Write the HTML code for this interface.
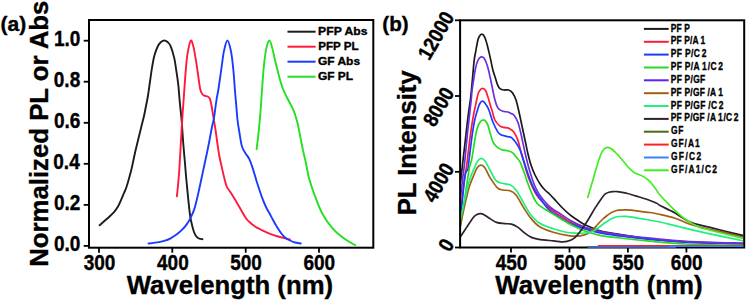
<!DOCTYPE html>
<html><head><meta charset="utf-8"><style>
html,body{margin:0;padding:0;background:#fff;width:746px;height:301px;overflow:hidden}
svg{display:block}
</style></head><body>
<svg width="746" height="301" viewBox="0 0 746 301">
<rect width="746" height="301" fill="#fff"/>
<defs><clipPath id="ca"><rect x="90" y="21" width="282.3" height="225.7"/></clipPath><clipPath id="cb"><rect x="461" y="21.3" width="282.2" height="225.5"/></clipPath><clipPath id="cb2"><rect x="461" y="21.3" width="282.2" height="227"/></clipPath></defs>
<g fill="none" stroke-width="1.9" stroke-linejoin="round" stroke-linecap="round" clip-path="url(#ca)">
<path d="M99.5,225.2 C100.8,224.1 104.6,221.0 107.0,218.8 C109.4,216.6 112.2,214.2 114.0,212.2 C115.8,210.1 116.8,208.5 118.0,206.5 C119.2,204.5 120.0,202.4 121.0,200.2 C122.0,197.9 123.1,195.1 124.0,193.0 C124.9,190.9 125.5,189.9 126.3,187.5 C127.1,185.1 128.2,181.5 129.0,178.5 C129.8,175.5 130.3,174.0 131.4,169.5 C132.5,165.0 134.0,157.2 135.3,151.5 C136.6,145.8 138.2,139.6 139.3,135.0 C140.4,130.4 141.2,127.2 142.0,124.0 C142.8,120.8 143.3,119.0 144.0,116.0 C144.7,113.0 145.3,109.5 146.0,106.0 C146.7,102.5 147.5,98.8 148.1,95.0 C148.7,91.2 149.1,87.6 149.8,83.0 C150.5,78.4 151.3,71.8 152.1,67.2 C152.9,62.6 153.4,59.1 154.4,55.6 C155.4,52.1 156.8,48.3 157.9,46.0 C159.0,43.7 159.9,42.9 161.0,42.0 C162.1,41.1 163.3,40.5 164.4,40.5 C165.5,40.5 166.4,41.0 167.5,42.0 C168.6,43.0 169.6,43.6 170.7,46.3 C171.8,48.9 173.2,53.6 174.2,57.9 C175.2,62.2 175.8,67.4 176.5,71.9 C177.2,76.4 177.8,80.3 178.3,85.0 C178.8,89.7 179.1,94.2 179.6,100.0 C180.1,105.8 181.0,113.3 181.6,120.0 C182.2,126.7 182.5,133.3 183.0,140.0 C183.5,146.7 184.1,153.3 184.7,160.0 C185.3,166.7 185.7,172.8 186.4,180.0 C187.1,187.2 188.0,197.1 188.7,203.3 C189.3,209.5 189.8,213.4 190.3,217.0 C190.9,220.6 191.4,222.5 192.0,225.0 C192.6,227.5 193.3,230.2 194.0,232.0 C194.7,233.8 195.2,234.9 196.0,236.0 C196.8,237.1 197.9,238.0 199.0,238.5 C200.1,239.0 201.9,239.1 202.5,239.2" stroke="#1c1c1c"/>
<path d="M176.9,196.3 C177.1,193.9 177.9,187.2 178.3,182.0 C178.8,176.8 179.2,172.0 179.6,165.0 C180.0,158.0 180.6,147.5 181.0,140.0 C181.4,132.5 181.8,126.7 182.2,120.0 C182.6,113.3 183.1,106.7 183.6,100.0 C184.1,93.3 184.5,86.3 185.0,80.0 C185.5,73.7 186.0,66.8 186.5,62.0 C187.0,57.1 187.3,54.5 188.0,50.9 C188.7,47.3 189.9,41.1 190.8,40.5 C191.7,39.9 192.8,44.1 193.6,47.4 C194.4,50.7 195.1,55.4 195.9,60.2 C196.7,65.0 197.6,71.6 198.3,76.5 C199.0,81.4 199.6,86.5 200.3,89.5 C201.0,92.5 201.7,93.2 202.5,94.3 C203.3,95.3 204.2,95.4 205.0,95.8 C205.8,96.2 206.8,96.0 207.6,96.5 C208.4,97.0 209.1,97.2 209.7,98.5 C210.3,99.8 210.7,101.5 211.2,104.0 C211.7,106.5 212.2,109.4 212.8,113.3 C213.5,117.2 214.3,122.2 215.1,127.2 C215.9,132.2 216.7,138.5 217.4,143.5 C218.1,148.5 218.7,152.8 219.5,157.0 C220.3,161.2 221.3,165.0 222.1,168.6 C222.9,172.2 223.6,175.5 224.4,178.5 C225.2,181.5 225.8,184.3 226.7,186.5 C227.6,188.7 228.6,189.3 230.0,191.5 C231.4,193.7 233.0,196.2 235.0,199.5 C237.0,202.8 240.0,208.2 241.9,211.5 C243.8,214.8 245.2,217.2 246.5,219.0 C247.8,220.8 248.6,221.2 250.0,222.5 C251.4,223.8 253.2,225.3 255.0,226.5 C256.8,227.7 258.8,228.6 260.6,229.5 C262.4,230.4 264.2,231.4 266.0,232.2 C267.8,233.0 269.5,233.6 271.5,234.3 C273.5,235.0 275.8,235.8 278.0,236.5 C280.2,237.2 283.0,237.8 285.0,238.3 C287.0,238.8 289.0,239.2 289.8,239.4" stroke="#ff1a3c"/>
<path d="M148.5,243.5 C150.2,243.3 156.2,242.6 159.0,242.1 C161.8,241.6 163.1,241.3 165.0,240.7 C166.9,240.1 168.7,239.3 170.6,238.3 C172.5,237.3 174.6,236.1 176.5,234.6 C178.4,233.1 180.5,231.3 182.2,229.6 C183.9,227.9 185.2,226.5 186.5,224.6 C187.8,222.7 189.0,220.9 190.3,218.3 C191.6,215.7 193.0,213.3 194.3,209.1 C195.6,204.9 197.0,198.9 198.3,193.2 C199.6,187.4 201.0,180.8 202.3,174.6 C203.6,168.4 205.1,161.6 206.3,156.0 C207.5,150.4 208.4,146.0 209.3,141.2 C210.2,136.4 211.2,130.9 212.0,127.0 C212.8,123.1 213.2,122.4 214.0,117.9 C214.8,113.4 215.7,104.8 216.5,99.8 C217.3,94.8 217.8,93.4 218.6,88.0 C219.4,82.6 220.7,73.4 221.6,67.2 C222.5,61.0 223.0,55.4 224.0,50.9 C225.0,46.4 226.2,40.5 227.4,40.5 C228.6,40.5 229.9,46.1 230.9,50.9 C231.9,55.7 232.7,63.2 233.3,69.5 C234.0,75.8 234.3,82.4 234.8,88.5 C235.3,94.6 235.9,100.8 236.3,106.0 C236.8,111.2 237.0,115.5 237.5,120.0 C238.0,124.5 238.8,128.6 239.5,133.0 C240.2,137.4 241.0,143.2 242.0,146.6 C243.0,150.0 244.2,151.2 245.4,153.2 C246.6,155.2 247.9,156.1 249.1,158.6 C250.3,161.1 251.3,164.1 252.6,167.9 C253.8,171.7 255.1,176.3 256.6,181.2 C258.2,186.1 260.3,192.8 261.9,197.1 C263.5,201.4 264.7,204.2 266.0,207.0 C267.3,209.8 268.5,211.6 269.7,213.8 C270.9,216.0 271.8,217.8 273.0,220.0 C274.2,222.2 275.7,224.8 277.0,227.0 C278.3,229.2 279.7,231.2 281.0,233.0 C282.3,234.8 283.5,236.2 285.0,237.5 C286.5,238.8 288.3,239.7 290.0,240.5 C291.7,241.3 293.2,242.0 295.0,242.5 C296.8,243.0 299.8,243.3 300.8,243.5" stroke="#1a3cff"/>
<path d="M256.6,149.2 C256.8,147.3 257.4,143.4 258.0,138.0 C258.6,132.6 259.4,124.6 260.1,116.6 C260.8,108.6 261.4,98.6 262.0,90.0 C262.6,81.4 263.3,71.8 264.0,64.9 C264.7,58.0 265.4,52.7 266.3,48.6 C267.2,44.5 268.3,40.7 269.3,40.5 C270.3,40.3 271.1,43.7 272.1,47.4 C273.2,51.1 274.4,57.8 275.6,62.6 C276.8,67.5 277.9,72.1 279.1,76.5 C280.3,80.9 281.6,85.4 283.0,89.0 C284.4,92.6 285.4,94.3 287.2,98.0 C289.0,101.7 292.1,106.9 293.9,111.3 C295.7,115.7 296.8,120.2 297.9,124.6 C299.0,129.0 299.6,133.5 300.5,137.9 C301.4,142.3 302.4,147.3 303.2,151.2 C304.0,155.0 304.5,156.6 305.5,161.0 C306.5,165.4 307.4,172.1 309.0,177.9 C310.6,183.7 312.7,189.8 314.9,195.8 C317.1,201.8 319.4,208.2 322.4,213.7 C325.4,219.2 329.1,224.5 332.8,228.7 C336.5,232.9 341.1,236.4 344.8,239.1 C348.5,241.8 353.5,244.1 355.2,245.1" stroke="#22e022"/>
</g>
<g fill="none" stroke-width="1.7" stroke-linejoin="round" stroke-linecap="round" clip-path="url(#cb)">
<path d="M460.6,182.0 C461.0,178.7 462.1,168.5 462.8,162.0 C463.5,155.5 464.3,148.8 465.0,143.0 C465.7,137.2 466.2,132.4 466.8,127.0 C467.4,121.6 468.2,115.5 468.8,110.8 C469.4,106.1 469.9,103.8 470.5,99.0 C471.1,94.2 471.6,88.4 472.2,82.0 C472.8,75.6 473.5,66.0 474.1,60.8 C474.7,55.6 475.4,53.6 475.9,50.6 C476.4,47.6 476.8,45.0 477.3,42.7 C477.8,40.4 478.2,38.4 479.0,37.0 C479.8,35.6 480.9,34.2 481.8,34.2 C482.7,34.2 483.8,35.4 484.6,37.0 C485.5,38.6 486.2,41.5 486.9,43.8 C487.6,46.1 487.9,47.8 488.6,50.6 C489.3,53.4 490.2,57.6 490.9,60.8 C491.6,64.0 492.1,67.1 492.9,70.0 C493.6,72.9 494.6,75.5 495.4,78.0 C496.2,80.5 496.8,83.0 497.6,84.8 C498.4,86.6 498.9,87.8 500.0,88.7 C501.1,89.6 502.6,89.8 504.0,90.0 C505.4,90.2 507.2,89.5 508.6,90.0 C510.0,90.5 511.4,91.3 512.6,93.0 C513.8,94.7 514.9,96.8 516.0,100.0 C517.1,103.2 518.0,107.7 519.0,112.0 C520.0,116.3 521.0,121.3 522.0,126.0 C523.0,130.7 524.0,135.3 525.0,140.0 C526.0,144.7 527.0,149.8 528.0,154.0 C529.0,158.2 529.8,161.5 531.0,165.0 C532.2,168.5 533.4,171.7 535.0,175.0 C536.6,178.3 538.9,182.2 540.6,184.7 C542.3,187.2 543.4,188.4 545.0,190.0 C546.6,191.6 548.2,192.7 550.0,194.5 C551.8,196.3 554.0,198.8 556.0,201.0 C558.0,203.2 559.7,205.2 562.0,207.5 C564.3,209.8 567.6,212.9 570.0,214.9 C572.4,216.9 574.5,218.1 576.6,219.5 C578.7,220.9 580.7,222.4 582.6,223.5 C584.5,224.6 586.5,225.4 588.3,226.2 C590.1,227.0 591.2,227.5 593.2,228.3 C595.2,229.1 597.2,230.0 600.0,230.8 C602.8,231.6 605.0,232.0 610.0,232.9 C615.0,233.8 623.3,235.0 630.0,236.0 C636.7,237.0 640.7,237.8 650.0,238.8 C659.3,239.8 670.3,241.0 686.0,241.8 C701.7,242.6 734.3,243.3 744.0,243.6" stroke="#1a1a1a"/>
<path d="M460.6,212.0 C461.1,207.7 462.6,193.0 463.5,186.0 C464.4,179.0 465.4,174.0 466.0,170.0 C466.6,166.0 466.5,166.7 467.1,162.0 C467.7,157.3 468.7,148.3 469.5,142.0 C470.3,135.7 471.2,129.0 472.0,124.0 C472.8,119.0 473.5,115.1 474.1,111.9 C474.7,108.8 475.1,107.5 475.6,105.1 C476.1,102.6 476.7,99.5 477.3,97.2 C477.9,95.0 478.1,93.1 479.0,91.6 C479.9,90.1 481.3,88.5 482.4,88.4 C483.5,88.3 484.9,89.5 485.8,91.0 C486.7,92.5 487.2,94.9 488.0,97.2 C488.8,99.5 489.7,103.0 490.3,105.1 C490.9,107.2 491.1,107.5 491.9,110.0 C492.7,112.5 493.6,117.3 494.9,120.0 C496.2,122.7 498.4,124.7 499.8,125.9 C501.2,127.1 502.2,127.0 503.5,127.3 C504.8,127.6 506.6,127.5 507.8,127.9 C509.0,128.3 509.8,128.8 510.8,129.5 C511.8,130.2 512.6,130.2 513.8,131.9 C515.0,133.6 516.7,136.9 517.8,139.9 C518.9,142.9 519.5,146.5 520.5,150.0 C521.5,153.5 522.4,157.2 523.5,161.0 C524.6,164.8 525.8,169.2 527.0,173.0 C528.2,176.8 529.5,180.5 531.0,184.0 C532.5,187.5 534.2,191.1 536.0,194.0 C537.8,196.9 539.9,199.2 542.0,201.5 C544.1,203.8 546.4,205.7 548.6,207.5 C550.8,209.3 552.8,210.9 555.0,212.5 C557.2,214.1 559.5,215.4 562.0,217.0 C564.5,218.6 566.2,220.2 570.0,222.0 C573.8,223.8 580.0,226.3 585.0,228.0 C590.0,229.7 594.2,230.8 600.0,232.0 C605.8,233.2 611.7,234.2 620.0,235.3 C628.3,236.5 639.0,237.8 650.0,238.9 C661.0,240.0 670.3,241.2 686.0,242.0 C701.7,242.8 734.3,243.5 744.0,243.8" stroke="#ff1a3a"/>
<path d="M460.6,219.0 C461.3,211.8 463.8,184.2 465.0,176.0 C466.2,167.8 467.1,172.3 467.7,170.0 C468.3,167.7 468.2,167.0 468.8,162.0 C469.4,157.0 470.6,146.8 471.5,140.0 C472.4,133.2 473.5,125.9 474.5,121.0 C475.5,116.1 476.4,113.6 477.3,110.8 C478.2,108.0 478.7,105.6 479.6,104.0 C480.5,102.4 481.6,101.0 482.7,101.2 C483.8,101.4 485.3,103.6 486.3,105.1 C487.3,106.6 487.8,107.2 488.9,110.0 C490.0,112.8 491.4,118.3 492.9,122.0 C494.4,125.7 496.4,129.8 497.8,131.9 C499.2,134.0 499.8,134.1 501.0,134.8 C502.2,135.5 503.6,135.6 504.8,135.9 C506.0,136.2 506.8,136.5 508.0,136.8 C509.2,137.1 510.3,136.7 511.8,137.9 C513.3,139.1 515.4,141.9 516.8,143.9 C518.2,145.9 518.9,147.1 520.0,149.8 C521.1,152.5 522.3,156.5 523.5,160.0 C524.7,163.5 525.8,167.3 527.0,171.0 C528.2,174.7 529.5,178.4 531.0,182.0 C532.5,185.6 534.2,189.3 536.0,192.5 C537.8,195.7 539.9,198.2 542.0,201.0 C544.1,203.8 546.4,207.2 548.6,209.5 C550.8,211.8 552.8,212.9 555.0,214.5 C557.2,216.1 559.5,217.5 562.0,219.0 C564.5,220.5 566.2,221.8 570.0,223.5 C573.8,225.2 580.0,227.4 585.0,229.0 C590.0,230.6 594.2,231.8 600.0,233.0 C605.8,234.2 611.7,234.9 620.0,236.0 C628.3,237.1 639.0,238.3 650.0,239.3 C661.0,240.3 670.3,241.4 686.0,242.2 C701.7,243.0 734.3,243.7 744.0,244.0" stroke="#1a3cff"/>
<path d="M460.6,226.0 C461.3,221.2 463.6,206.3 465.0,197.0 C466.4,187.7 467.9,176.2 469.0,170.0 C470.1,163.8 470.8,163.8 471.6,159.8 C472.4,155.8 473.2,150.2 473.9,145.9 C474.6,141.6 475.1,137.6 475.9,133.9 C476.7,130.2 477.7,126.3 478.9,124.0 C480.1,121.7 481.6,120.2 482.9,120.0 C484.2,119.8 485.7,121.0 486.9,123.0 C488.1,125.0 488.9,128.8 489.9,131.9 C490.9,135.1 491.7,139.4 492.9,141.9 C494.1,144.4 495.4,145.6 496.9,146.9 C498.4,148.2 500.0,149.2 501.8,149.8 C503.6,150.5 506.0,150.3 507.8,150.8 C509.6,151.3 511.3,151.6 512.8,152.8 C514.3,154.0 515.6,156.3 516.8,157.8 C518.0,159.3 518.8,159.4 520.0,161.8 C521.2,164.2 522.3,167.5 524.0,172.0 C525.7,176.5 527.8,183.8 530.0,189.0 C532.2,194.2 533.9,199.6 537.0,203.3 C540.1,207.0 544.7,208.9 548.6,211.4 C552.5,213.9 556.6,216.3 560.2,218.4 C563.8,220.5 565.9,222.1 570.0,224.2 C574.1,226.3 580.0,229.2 585.0,231.0 C590.0,232.8 594.2,234.1 600.0,235.3 C605.8,236.5 611.7,237.0 620.0,238.0 C628.3,239.0 639.0,240.2 650.0,241.2 C661.0,242.2 670.3,243.3 686.0,244.0 C701.7,244.7 734.3,245.1 744.0,245.3" stroke="#22dd22"/>
<path d="M460.6,196.0 C461.3,190.3 463.6,172.5 464.7,162.0 C465.8,151.5 466.6,141.5 467.5,133.0 C468.4,124.5 469.4,116.2 470.0,110.8 C470.6,105.4 470.7,104.2 471.1,100.6 C471.5,97.0 471.7,93.1 472.2,89.3 C472.7,85.5 473.3,81.5 473.9,78.0 C474.4,74.5 474.9,71.2 475.5,68.5 C476.1,65.8 476.8,63.2 477.5,61.5 C478.2,59.8 478.8,58.8 479.5,58.0 C480.2,57.2 481.1,56.8 481.8,56.8 C482.6,56.8 483.2,56.9 484.0,58.0 C484.8,59.1 485.9,61.5 486.6,63.5 C487.4,65.5 487.9,67.6 488.5,70.0 C489.1,72.4 489.6,74.8 490.3,78.0 C491.0,81.2 491.9,85.7 492.6,89.3 C493.4,92.9 494.0,96.5 494.8,99.5 C495.6,102.5 496.6,105.6 497.6,107.4 C498.6,109.2 499.7,109.7 500.8,110.4 C501.9,111.1 502.8,111.2 504.0,111.5 C505.2,111.8 506.7,111.7 507.8,112.0 C508.9,112.3 509.5,112.8 510.5,113.3 C511.5,113.8 512.6,113.5 513.8,115.0 C515.0,116.5 516.6,118.8 517.8,122.0 C519.0,125.2 520.0,129.7 521.0,134.0 C522.0,138.3 523.0,143.5 524.0,148.0 C525.0,152.5 526.0,157.0 527.0,161.0 C528.0,165.0 528.8,168.2 530.0,172.0 C531.2,175.8 532.6,180.5 534.0,184.0 C535.4,187.5 536.8,190.4 538.3,193.0 C539.8,195.6 541.3,197.4 543.0,199.5 C544.7,201.6 546.8,203.8 548.6,205.6 C550.4,207.3 552.1,208.7 554.0,210.0 C555.9,211.3 557.5,212.0 560.2,213.7 C562.9,215.4 565.9,217.9 570.0,220.2 C574.1,222.5 580.0,225.4 585.0,227.3 C590.0,229.2 594.2,230.2 600.0,231.4 C605.8,232.7 611.7,233.7 620.0,234.8 C628.3,235.9 639.0,237.1 650.0,238.2 C661.0,239.3 670.3,240.5 686.0,241.3 C701.7,242.1 734.3,242.9 744.0,243.2" stroke="#6a30e0"/>
<path d="M460.6,224.0 C461.5,220.0 464.5,206.1 466.0,199.8 C467.5,193.5 468.2,190.0 469.5,186.0 C470.8,182.0 472.2,178.9 473.5,175.9 C474.8,172.9 475.8,169.8 477.0,168.0 C478.2,166.2 479.6,165.2 480.9,165.2 C482.2,165.2 483.5,166.0 485.0,168.0 C486.5,170.0 487.8,174.1 489.9,177.4 C492.0,180.7 495.2,185.7 497.4,187.8 C499.6,189.9 500.9,189.5 503.0,190.0 C505.1,190.5 507.8,190.0 510.0,190.8 C512.2,191.6 514.0,192.6 516.0,195.0 C518.0,197.4 519.7,201.3 522.0,205.0 C524.3,208.7 527.1,213.6 530.0,217.2 C532.9,220.8 535.4,224.0 539.3,226.5 C543.2,229.0 548.2,230.8 553.3,232.3 C558.4,233.9 565.5,235.2 570.0,235.8 C574.5,236.4 577.2,236.1 580.0,235.8 C582.8,235.5 585.2,234.8 587.0,234.0 C588.8,233.2 589.8,232.2 591.0,231.3 C592.2,230.4 593.1,229.5 594.3,228.3 C595.5,227.1 596.6,225.5 598.0,224.0 C599.4,222.5 601.0,220.8 602.4,219.5 C603.8,218.2 605.1,217.1 606.5,216.0 C607.9,214.9 609.3,213.9 610.6,213.1 C611.9,212.3 613.1,211.7 614.5,211.2 C615.9,210.7 617.0,210.4 618.7,210.2 C620.5,210.0 622.6,209.8 625.0,209.8 C627.4,209.8 630.4,210.1 632.9,210.3 C635.4,210.6 637.1,210.9 640.0,211.3 C642.9,211.7 646.7,212.0 650.0,212.5 C653.3,213.0 655.8,213.6 660.0,214.5 C664.2,215.4 670.0,216.6 675.0,218.2 C680.0,219.8 684.2,222.3 690.0,224.2 C695.8,226.1 701.0,227.3 710.0,229.4 C719.0,231.5 738.3,235.7 744.0,236.9" stroke="#a06010"/>
<path d="M460.6,219.0 C460.8,218.3 460.6,218.9 461.5,214.7 C462.4,210.5 464.7,199.6 466.0,193.8 C467.3,188.0 468.2,184.0 469.5,180.0 C470.8,176.0 472.2,172.9 473.5,169.9 C474.8,166.9 475.8,163.9 477.0,162.0 C478.2,160.1 479.6,158.5 480.9,158.3 C482.2,158.1 483.5,159.1 485.0,161.0 C486.5,162.9 488.1,166.7 489.9,169.9 C491.7,173.1 493.9,178.2 495.9,180.4 C497.9,182.6 499.5,182.6 501.9,183.3 C504.2,184.0 507.6,183.7 510.0,184.8 C512.4,185.9 514.0,187.5 516.0,190.0 C518.0,192.5 519.7,196.1 522.0,200.0 C524.3,203.9 527.1,209.9 530.0,213.7 C532.9,217.5 535.4,220.5 539.3,223.0 C543.2,225.5 549.0,227.3 553.3,228.8 C557.6,230.3 561.4,231.3 565.0,232.0 C568.6,232.7 571.7,233.0 575.0,233.2 C578.3,233.4 582.2,233.2 585.0,233.0 C587.8,232.8 590.2,232.3 592.0,231.7 C593.8,231.1 594.6,230.2 596.0,229.3 C597.4,228.4 598.8,227.5 600.1,226.5 C601.4,225.5 602.6,224.5 604.0,223.5 C605.4,222.5 607.0,221.5 608.3,220.7 C609.5,219.9 610.4,219.3 611.5,218.7 C612.6,218.1 613.8,217.6 615.2,217.2 C616.6,216.8 618.4,216.6 620.0,216.5 C621.6,216.4 623.0,216.3 625.0,216.4 C627.0,216.5 629.4,216.8 632.0,217.2 C634.6,217.6 636.0,217.9 640.7,218.7 C645.4,219.5 654.3,220.8 660.0,222.0 C665.7,223.2 670.0,224.5 675.0,225.7 C680.0,226.9 684.2,228.0 690.0,229.4 C695.8,230.8 701.0,232.0 710.0,233.9 C719.0,235.8 738.3,239.8 744.0,241.0" stroke="#20f080"/>
<path d="M460.6,236.5 C461.6,235.0 464.5,230.6 466.6,227.4 C468.7,224.2 471.6,219.6 473.3,217.4 C475.0,215.2 475.8,215.1 477.0,214.5 C478.2,213.9 479.6,213.5 480.8,213.6 C482.1,213.7 483.3,214.4 484.5,215.0 C485.7,215.6 486.2,216.2 488.2,217.4 C490.2,218.6 493.7,221.4 496.5,222.4 C499.3,223.4 502.4,223.3 504.9,223.6 C507.4,223.9 509.3,223.5 511.5,224.1 C513.7,224.7 515.9,225.9 518.1,227.4 C520.3,228.9 522.6,231.5 524.8,233.2 C527.0,234.9 529.0,236.4 531.4,237.4 C533.8,238.4 535.2,238.7 538.9,239.3 C542.5,239.9 549.6,240.5 553.3,240.9 C557.0,241.3 559.0,241.7 561.3,241.8 C563.6,241.9 564.8,242.0 567.0,241.4 C569.2,240.8 571.9,240.0 574.3,238.1 C576.7,236.2 579.0,233.1 581.3,230.0 C583.6,226.9 586.0,223.2 588.3,219.5 C590.6,215.8 593.0,211.4 595.2,207.9 C597.4,204.4 599.9,200.8 601.5,198.5 C603.1,196.2 603.8,195.2 605.0,194.2 C606.2,193.2 607.6,192.7 608.9,192.3 C610.2,191.9 611.6,191.7 613.0,191.6 C614.4,191.5 616.0,191.5 617.5,191.6 C619.0,191.7 620.3,192.0 622.0,192.3 C623.7,192.6 624.9,192.8 627.6,193.5 C630.3,194.2 635.3,195.8 638.2,196.7 C641.1,197.6 642.0,197.7 645.1,198.8 C648.2,199.9 654.1,202.1 656.6,203.2 C659.1,204.3 656.9,203.9 660.0,205.5 C663.1,207.1 670.0,210.2 675.0,213.0 C680.0,215.8 684.2,219.6 690.0,222.0 C695.8,224.4 701.0,225.1 710.0,227.4 C719.0,229.7 738.3,234.3 744.0,235.7" stroke="#302030"/>
<path d="M587.5,247.0 L744.0,247.0" stroke="#4a6a10"/>
<path d="M587.7,197.5 C588.2,195.9 589.6,190.9 590.5,188.0 C591.4,185.1 592.2,182.4 593.0,179.8 C593.8,177.2 594.3,174.8 595.0,172.5 C595.7,170.2 596.3,168.1 597.0,165.9 C597.7,163.7 598.3,161.5 599.0,159.5 C599.7,157.5 600.3,155.5 601.0,154.0 C601.7,152.5 602.3,151.4 603.0,150.5 C603.7,149.6 604.2,148.9 605.0,148.4 C605.8,147.9 607.0,147.4 607.9,147.4 C608.8,147.4 609.7,147.9 610.5,148.3 C611.3,148.7 612.0,149.2 612.9,150.0 C613.8,150.8 614.9,152.0 615.9,153.0 C616.9,154.0 617.9,154.9 618.9,156.0 C619.9,157.1 620.8,158.3 621.8,159.5 C622.8,160.7 623.8,161.7 624.8,162.9 C625.8,164.1 626.5,165.3 627.6,166.5 C628.7,167.7 630.2,169.2 631.5,170.3 C632.8,171.4 634.1,172.4 635.5,173.2 C636.9,174.0 638.4,174.3 640.0,175.0 C641.6,175.7 643.4,176.5 645.1,177.6 C646.8,178.7 648.4,179.9 650.0,181.6 C651.6,183.3 653.3,185.8 655.0,188.0 C656.7,190.2 657.5,192.1 660.0,195.0 C662.5,197.9 667.4,202.9 669.9,205.5 C672.4,208.1 672.6,208.4 675.0,210.5 C677.4,212.6 680.3,215.5 684.0,218.2 C687.7,220.8 693.1,224.4 697.4,226.4 C701.7,228.4 702.2,228.2 710.0,230.2 C717.8,232.2 738.3,237.2 744.0,238.6" stroke="#40ee20"/>
</g>
<g font-family='"Liberation Sans", sans-serif' font-weight="bold" fill="#000" stroke="#000" stroke-width="0.35">
<rect x="89.0" y="20.0" width="284.3" height="227.7" fill="none" stroke="#000" stroke-width="2"/>
<line x1="83.7" y1="245.9" x2="89.0" y2="245.9" stroke="#000" stroke-width="1.8"/>
<line x1="83.7" y1="204.9" x2="89.0" y2="204.9" stroke="#000" stroke-width="1.8"/>
<line x1="83.7" y1="163.8" x2="89.0" y2="163.8" stroke="#000" stroke-width="1.8"/>
<line x1="83.7" y1="122.8" x2="89.0" y2="122.8" stroke="#000" stroke-width="1.8"/>
<line x1="83.7" y1="81.7" x2="89.0" y2="81.7" stroke="#000" stroke-width="1.8"/>
<line x1="83.7" y1="40.7" x2="89.0" y2="40.7" stroke="#000" stroke-width="1.8"/>
<line x1="99.0" y1="247.7" x2="99.0" y2="252.7" stroke="#000" stroke-width="1.8"/>
<line x1="172.3" y1="247.7" x2="172.3" y2="252.7" stroke="#000" stroke-width="1.8"/>
<line x1="245.7" y1="247.7" x2="245.7" y2="252.7" stroke="#000" stroke-width="1.8"/>
<line x1="319.0" y1="247.7" x2="319.0" y2="252.7" stroke="#000" stroke-width="1.8"/>
<rect x="460.1" y="20.3" width="284.1" height="227.2" fill="none" stroke="#000" stroke-width="2"/>
<line x1="455" y1="247.5" x2="460.1" y2="247.5" stroke="#000" stroke-width="1.8"/>
<line x1="455" y1="171.8" x2="460.1" y2="171.8" stroke="#000" stroke-width="1.8"/>
<line x1="455" y1="96.0" x2="460.1" y2="96.0" stroke="#000" stroke-width="1.8"/>
<line x1="455" y1="20.3" x2="460.1" y2="20.3" stroke="#000" stroke-width="1.8"/>
<line x1="511.0" y1="247.5" x2="511.0" y2="252.5" stroke="#000" stroke-width="1.8"/>
<line x1="569.5" y1="247.5" x2="569.5" y2="252.5" stroke="#000" stroke-width="1.8"/>
<line x1="627.9" y1="247.5" x2="627.9" y2="252.5" stroke="#000" stroke-width="1.8"/>
<line x1="686.4" y1="247.5" x2="686.4" y2="252.5" stroke="#000" stroke-width="1.8"/>
<g fill="none" stroke-width="1.4" clip-path="url(#cb2)">
<path d="M597.8,245.8 L744.0,245.8" stroke="#ff2020"/>
<path d="M587.5,247.1 C601.4,247.1 656.8,247.2 671.0,247.1 C685.2,247.0 660.3,246.4 672.5,246.3 C684.7,246.2 732.1,246.3 744.0,246.3" stroke="#3a80ff"/>
</g>
<text transform="translate(54.73,251.22) scale(1,1.12)" x="-0.76" y="0" font-size="19.0" textLength="26.41" lengthAdjust="spacingAndGlyphs">0.0</text>
<text transform="translate(54.71,210.18) scale(1,1.12)" x="-0.76" y="0" font-size="19.0" textLength="26.41" lengthAdjust="spacingAndGlyphs">0.2</text>
<text transform="translate(54.04,169.14) scale(1,1.12)" x="-0.76" y="0" font-size="19.0" textLength="26.41" lengthAdjust="spacingAndGlyphs">0.4</text>
<text transform="translate(54.63,128.10) scale(1,1.12)" x="-0.76" y="0" font-size="19.0" textLength="26.41" lengthAdjust="spacingAndGlyphs">0.6</text>
<text transform="translate(54.54,87.06) scale(1,1.12)" x="-0.76" y="0" font-size="19.0" textLength="26.41" lengthAdjust="spacingAndGlyphs">0.8</text>
<text transform="translate(55.17,46.02) scale(1,1.12)" x="-1.20" y="0" font-size="19.0" textLength="26.41" lengthAdjust="spacingAndGlyphs">1.0</text>
<text transform="translate(84.06,270.30) scale(1,1.12)" x="-0.44" y="0" font-size="19.0" textLength="31.70" lengthAdjust="spacingAndGlyphs">300</text>
<text transform="translate(157.32,270.30) scale(1,1.12)" x="-0.28" y="0" font-size="19.0" textLength="31.70" lengthAdjust="spacingAndGlyphs">400</text>
<text transform="translate(230.80,270.30) scale(1,1.12)" x="-0.59" y="0" font-size="19.0" textLength="31.70" lengthAdjust="spacingAndGlyphs">500</text>
<text transform="translate(304.19,270.30) scale(1,1.12)" x="-0.70" y="0" font-size="19.0" textLength="31.70" lengthAdjust="spacingAndGlyphs">600</text>
<text transform="translate(1.60,30.60) scale(1,1.0)" x="-1.05" y="0" font-size="19.5" textLength="25.71" lengthAdjust="spacingAndGlyphs">(a)</text>
<text transform="translate(48.00,265.00) rotate(-90)" x="-1.72" y="0" font-size="25.7" textLength="265.99" lengthAdjust="spacingAndGlyphs">Normalized PL or Abs</text>
<text transform="translate(126.80,294.40) scale(1,1.0)" x="-0.03" y="0" font-size="25.7" textLength="206.30" lengthAdjust="spacingAndGlyphs">Wavelength (nm)</text>
<line x1="287.5" y1="31.7" x2="315.6" y2="31.7" stroke="#1c1c1c" stroke-width="2"/>
<text transform="translate(318.90,35.10) scale(1,1.0)" x="-0.82" y="0" font-size="11.5" textLength="49.41" lengthAdjust="spacingAndGlyphs">PFP Abs</text>
<line x1="287.5" y1="46.7" x2="315.6" y2="46.7" stroke="#ff1a3c" stroke-width="2"/>
<text transform="translate(318.90,50.10) scale(1,1.0)" x="-0.78" y="0" font-size="11.5" textLength="40.43" lengthAdjust="spacingAndGlyphs">PFP PL</text>
<line x1="287.5" y1="61.7" x2="315.6" y2="61.7" stroke="#1a3cff" stroke-width="2"/>
<text transform="translate(318.40,65.10) scale(1,1.0)" x="-0.49" y="0" font-size="11.5" textLength="42.19" lengthAdjust="spacingAndGlyphs">GF Abs</text>
<line x1="287.5" y1="76.7" x2="315.6" y2="76.7" stroke="#22e022" stroke-width="2"/>
<text transform="translate(318.40,80.10) scale(1,1.0)" x="-0.49" y="0" font-size="11.5" textLength="35.25" lengthAdjust="spacingAndGlyphs">GF PL</text>
<text transform="translate(455,244.0) rotate(-60) scale(1,1.12)" font-size="18.5" text-anchor="end">0</text>
<text transform="translate(455,168.3) rotate(-60) scale(1,1.12)" font-size="18.5" text-anchor="end">4000</text>
<text transform="translate(455,92.5) rotate(-60) scale(1,1.12)" font-size="18.5" text-anchor="end">8000</text>
<text transform="translate(455,16.8) rotate(-60) scale(1,1.12)" font-size="18.5" text-anchor="end">12000</text>
<text transform="translate(495.99,270.30) scale(1,1.12)" x="-0.28" y="0" font-size="19.0" textLength="31.70" lengthAdjust="spacingAndGlyphs">450</text>
<text transform="translate(554.59,270.30) scale(1,1.12)" x="-0.59" y="0" font-size="19.0" textLength="31.70" lengthAdjust="spacingAndGlyphs">500</text>
<text transform="translate(613.04,270.30) scale(1,1.12)" x="-0.59" y="0" font-size="19.0" textLength="31.70" lengthAdjust="spacingAndGlyphs">550</text>
<text transform="translate(671.54,270.30) scale(1,1.12)" x="-0.70" y="0" font-size="19.0" textLength="31.70" lengthAdjust="spacingAndGlyphs">600</text>
<text transform="translate(383.30,31.00) scale(1,1.0)" x="-1.03" y="0" font-size="19.5" textLength="26.36" lengthAdjust="spacingAndGlyphs">(b)</text>
<text transform="translate(416.00,213.60) rotate(-90)" x="-1.72" y="0" font-size="25.7" textLength="144.96" lengthAdjust="spacingAndGlyphs">PL Intensity</text>
<text transform="translate(495.30,293.80) scale(1,1.0)" x="-0.03" y="0" font-size="25.7" textLength="207.41" lengthAdjust="spacingAndGlyphs">Wavelength (nm)</text>
<line x1="643.9" y1="28.9" x2="668.7" y2="28.9" stroke="#1a1a1a" stroke-width="2"/>
<text transform="translate(671.30,31.50) scale(0.82,1)" x="-0.69 6.44 15.92" y="0" font-size="10.3">PFP</text>
<line x1="643.9" y1="41.8" x2="668.7" y2="41.8" stroke="#ff1a3a" stroke-width="2"/>
<text transform="translate(671.30,44.35) scale(0.82,1)" x="-0.69 6.33 15.71 22.73 25.75 35.54" y="0" font-size="10.3">PFP/A1</text>
<line x1="643.9" y1="54.6" x2="668.7" y2="54.6" stroke="#1a3cff" stroke-width="2"/>
<text transform="translate(671.30,57.21) scale(0.82,1)" x="-0.69 6.77 16.59 24.05 27.51 37.24" y="0" font-size="10.3">PFP/C2</text>
<line x1="643.9" y1="67.5" x2="668.7" y2="67.5" stroke="#22dd22" stroke-width="2"/>
<text transform="translate(671.30,70.06) scale(0.82,1)" x="-0.69 6.70 16.43 23.82 27.20 37.35 44.33 47.71 57.37" y="0" font-size="10.3">PFP/A1/C2</text>
<line x1="643.9" y1="80.3" x2="668.7" y2="80.3" stroke="#5a22ff" stroke-width="2"/>
<text transform="translate(671.30,82.92) scale(0.82,1)" x="-0.69 6.56 16.17 23.42 26.66 35.06" y="0" font-size="10.3">PFP/GF</text>
<line x1="643.9" y1="93.2" x2="668.7" y2="93.2" stroke="#a06010" stroke-width="2"/>
<text transform="translate(671.30,95.78) scale(0.82,1)" x="-0.69 6.48 16.00 23.17 26.33 34.64 44.15 47.32 57.25" y="0" font-size="10.3">PFP/GF/A1</text>
<line x1="643.9" y1="106.0" x2="668.7" y2="106.0" stroke="#20f080" stroke-width="2"/>
<text transform="translate(671.30,108.63) scale(0.82,1)" x="-0.69 6.62 16.27 23.58 26.88 35.32 44.98 48.28 57.86" y="0" font-size="10.3">PFP/GF/C2</text>
<line x1="643.9" y1="118.9" x2="668.7" y2="118.9" stroke="#302030" stroke-width="2"/>
<text transform="translate(671.30,121.48) scale(0.82,1)" x="-0.69 6.45 15.93 23.07 26.20 34.48 43.97 47.09 57.00 63.72 66.85 76.27" y="0" font-size="10.3">PFP/GF/A1/C2</text>
<line x1="643.9" y1="131.7" x2="668.7" y2="131.7" stroke="#4a6a10" stroke-width="2"/>
<text transform="translate(671.30,134.34) scale(0.82,1)" x="-0.42 8.35" y="0" font-size="10.3">GF</text>
<line x1="643.9" y1="144.6" x2="668.7" y2="144.6" stroke="#ff2020" stroke-width="2"/>
<text transform="translate(671.30,147.19) scale(0.82,1)" x="-0.42 8.75 16.20 20.23 28.83" y="0" font-size="10.3">GF/A1</text>
<line x1="643.9" y1="157.5" x2="668.7" y2="157.5" stroke="#3a80ff" stroke-width="2"/>
<text transform="translate(671.30,160.05) scale(0.82,1)" x="-0.42 9.24 17.18 21.69 30.78" y="0" font-size="10.3">GF/C2</text>
<line x1="643.9" y1="170.3" x2="668.7" y2="170.3" stroke="#40ee20" stroke-width="2"/>
<text transform="translate(671.30,172.91) scale(0.82,1)" x="-0.42 9.00 16.69 20.96 29.80 36.94 41.21 50.05" y="0" font-size="10.3">GF/A1/C2</text>
</g></svg>
</body></html>
